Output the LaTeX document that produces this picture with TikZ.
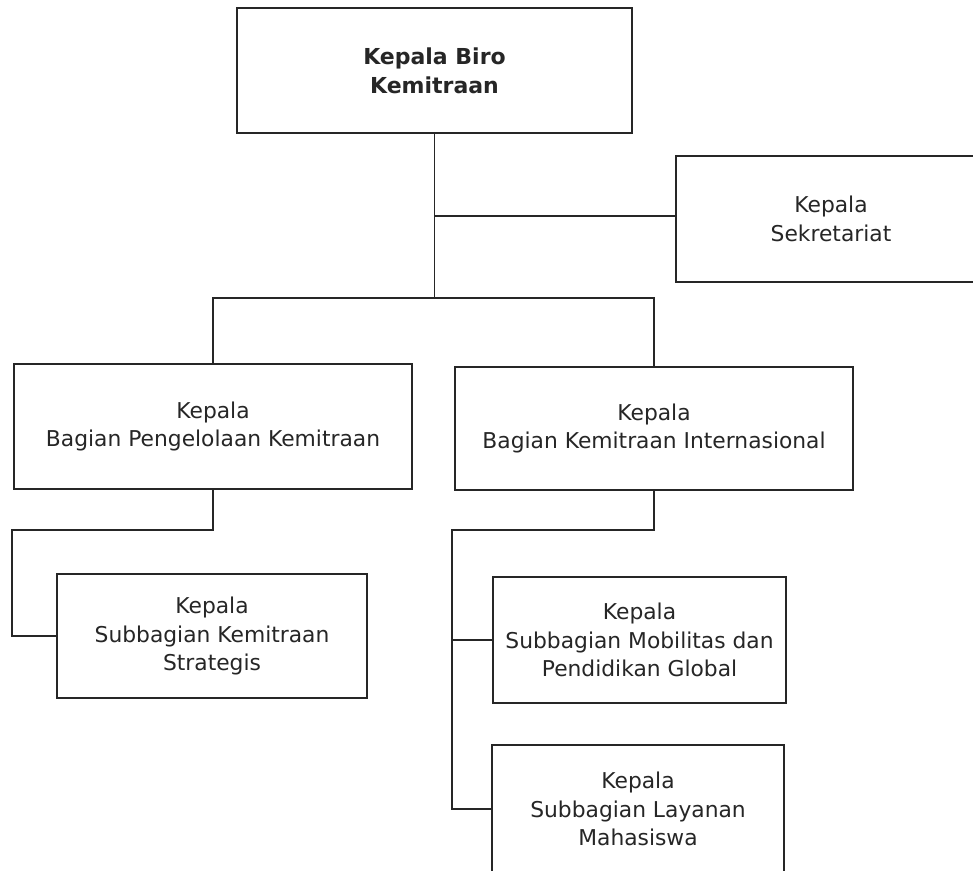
\documentclass[tikz,border=0pt]{standalone}
\usepackage{fontspec}
\setmainfont{DejaVu Sans}
\begin{document}
\begin{tikzpicture}[x=1pt,y=-1pt,
  unitbox/.style={draw=black!85, line width=1.4pt, fill=white, align=center,
    inner sep=0pt, font=\fontsize{21.8}{28.5}\selectfont, text=black!85},
  headbox/.style={unitbox, font=\fontsize{22}{29}\selectfont\bfseries},
  link/.style={draw=black!85, line width=1.3pt}]
\useasboundingbox (0,0) rectangle (973,870);
\clip (0,0) rectangle (973,870);

% units
\node[headbox, minimum width=395pt, minimum height=125pt] (top) at (434.5,70.5)
  {Kepala Biro\\Kemitraan};
\node[unitbox, minimum width=310pt, minimum height=126pt] (sek) at (831,219)
  {Kepala\\Sekretariat};
\node[unitbox, minimum width=398pt, minimum height=125pt] (bpk) at (213,426.5)
  {Kepala\\Bagian Pengelolaan Kemitraan};
\node[unitbox, minimum width=398pt, minimum height=123pt] (bki) at (654,428.5)
  {Kepala\\Bagian Kemitraan Internasional};
\node[unitbox, minimum width=310pt, minimum height=124pt] (sks) at (212,636)
  {Kepala\\Subbagian Kemitraan\\Strategis};
\node[unitbox, minimum width=293pt, minimum height=126pt] (smp) at (639.5,640)
  {Kepala\\Subbagian Mobilitas dan\\Pendidikan Global};
\node[unitbox, minimum width=292pt, minimum height=128pt] (slm) at (638,809)
  {Kepala\\Subbagian Layanan\\Mahasiswa};

% junction points
\coordinate (jsek) at (434.5,216);
\coordinate (bus) at (434.5,298);
\coordinate (lb) at (12,530);
\coordinate (rb) at (452,530);

% connectors
\draw[link] (top.south) -- (bus);
\draw[link] (jsek) -- (jsek -| sek.west);
\draw[link] (bpk.north) |- (bus) -| (bki.north);
\draw[link] (bpk.south) |- (lb) |- (sks.west);
\draw[link] (bki.south) |- (rb) |- (slm.west);
\draw[link] (rb |- smp.west) -- (smp.west);
\end{tikzpicture}
\end{document}
